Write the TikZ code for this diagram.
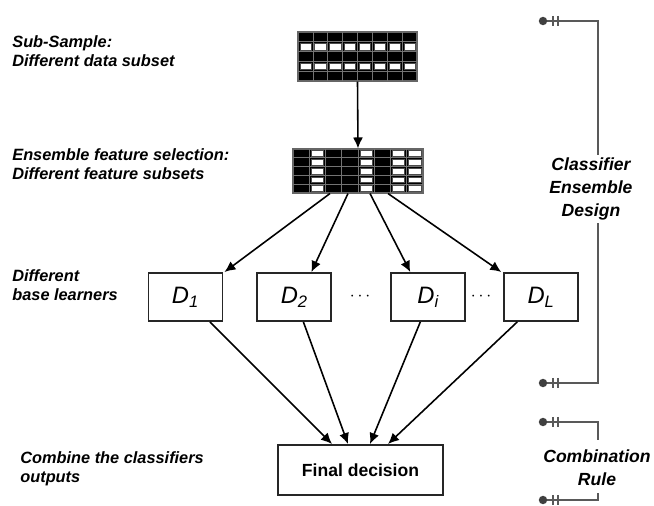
\documentclass[tikz,border=0pt]{standalone}
\usepackage{fontspec}
\setmainfont{Liberation Sans}
\usetikzlibrary{positioning,calc,arrows.meta}

\begin{document}
\begin{tikzpicture}
  [x=0.02cm,y=-0.02cm,
   note/.style={font=\fontsize{9.3}{10.8}\selectfont\bfseries\itshape,align=left,anchor=west,inner sep=0pt},
   side/.style={font=\fontsize{10}{13}\selectfont\bfseries\itshape,align=center,inner sep=0pt},
   learner/.style={rectangle,draw=black!85,line width=1.1pt,minimum width=1.48cm,minimum height=0.96cm,inner sep=0pt,font=\fontsize{13.5}{13.5}\selectfont\itshape},
   decision/.style={rectangle,draw=black!85,line width=1.1pt,minimum width=3.3cm,minimum height=1cm,inner sep=0pt,font=\fontsize{10}{12}\selectfont\bfseries},
   databox/.style={rectangle,fill=black,draw=black!60,line width=0.6pt,inner sep=0pt},
   arrow/.style={draw,line width=0.9pt,-{Latex[length=2.2mm,width=2mm]}},
   bracket/.style={draw=black!65,line width=1.1pt}]
  \useasboundingbox (0,0) rectangle (654,506);

  % sub-sample grid
  \node [databox,minimum width=2.38cm,minimum height=0.98cm] (subset) at (357.5,56.5) {};
  \foreach \c in {0,...,7}
    \foreach \r in {1,3}
      \filldraw [fill=white,draw=black!70,line width=0.3pt] (298+\c*14.875+1.8,32+\r*9.8+1.6) rectangle ++(11.3,6.6);
  \foreach \c in {1,...,7}
    \draw [black!55,line width=0.4pt] (298+\c*14.875,32) -- ++(0,49);
  \foreach \r in {1,...,4}
    \draw [black!55,line width=0.4pt] (298,32+\r*9.8) -- ++(119,0);

  % feature subset grid
  \node [databox,minimum width=2.6cm,minimum height=0.88cm] (feat) at (358,171) {};
  \foreach \c in {1,4,6,7}
    \foreach \r in {0,...,4}
      \filldraw [fill=white,draw=black!70,line width=0.3pt] (293+\c*16.25+2,149+\r*8.8+1.5) rectangle ++(12.25,5.8);
  \foreach \c in {1,...,7}
    \draw [black!55,line width=0.4pt] (293+\c*16.25,149) -- ++(0,44);
  \foreach \r in {1,...,4}
    \draw [black!55,line width=0.4pt] (293,149+\r*8.8) -- ++(130,0);

  % base learners
  \node [learner] (d1) at (185.5,297) {D\textsubscript{1}};
  \node [learner] (d2) [right=0.66cm of d1] {D\textsubscript{2}};
  \node [learner] (di) [right=1.16cm of d2] {D\textsubscript{\itshape i}};
  \node [learner] (dl) [right=0.74cm of di] {D\textsubscript{L}};
  \node (dots1) at (360,297) {$\cdots$};
  \node (dots2) at (481,297) {$\cdots$};

  \node [decision] (final) at (360.5,470) {Final decision};

  % left notes
  \node [note] (n1) at (12,51.5) {Sub-Sample:\\Different data subset};
  \node [note] (n2) at (12,164.5) {Ensemble feature selection:\\Different feature subsets};
  \node [note] (n3) at (12,285) {Different\\base learners};
  \node [note] (n4) at (20,469) {Combine the classifiers\\outputs};

  % arrows
  \draw [arrow] (subset.south) -- (feat.north);
  \draw [arrow] ($(feat.south)+(-28,0)$) -- ($(d1.north east)+(1,0)$);
  \draw [arrow] ($(feat.south)+(-10,0)$) -- ($(d2.north)+(17,0)$);
  \draw [arrow] ($(feat.south)+(12,0)$) -- ($(di.north)+(-18,0)$);
  \draw [arrow] ($(feat.south)+(30,0)$) -- ($(dl.north west)+(-2,0)$);
  \draw [arrow] ($(d1.south)+(24.5,0)$) -- ($(final.north)+(-28.5,0)$);
  \draw [arrow] ($(d2.south)+(9,0)$) -- ($(final.north)+(-12.5,0)$);
  \draw [arrow] ($(di.south)+(-8,0)$) -- ($(final.north)+(9.5,0)$);
  \draw [arrow] ($(dl.south)+(-24,0)$) -- ($(final.north)+(27.5,0)$);

  % right brackets
  \node [side] (design) at (591,189) {Classifier\\Ensemble\\Design};
  \node [side] (rule) at (597,468) {Combination\\Rule};
  \coordinate (cedTop) at (543,21);
  \coordinate (cedBot) at (543,383);
  \coordinate (crTop) at (543,422);
  \coordinate (crBot) at (543,500);
  \draw [bracket] (cedTop) -| (598,155);
  \draw [bracket] (cedBot) -| (598,223);
  \draw [bracket] (crTop) -| (598,440);
  \draw [bracket] (crBot) -| (598,493);
  \foreach \p in {cedTop,cedBot,crTop,crBot} {
    \fill [black!75] (\p) circle (2.4pt);
    \draw [bracket,line width=0.7pt] ($(\p)+(10,-5)$) -- ++(0,10) ($(\p)+(15,-5)$) -- ++(0,10);
  }
\end{tikzpicture}
\end{document}
